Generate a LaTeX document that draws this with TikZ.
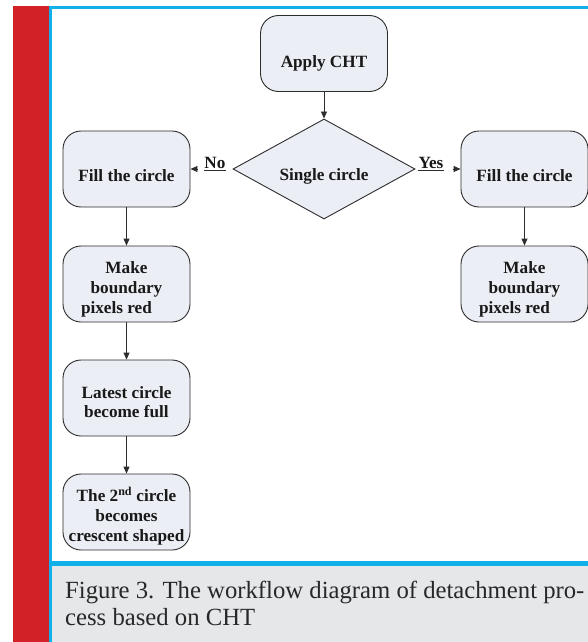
\documentclass[tikz,border=0pt]{standalone}
\usepackage{fontspec}
\setmainfont{Liberation Serif}
\usetikzlibrary{shapes.geometric,arrows.meta}
\definecolor{barred}{RGB}{211,33,40}
\definecolor{edgecyan}{RGB}{18,176,232}
\definecolor{capgray}{RGB}{230,231,233}
\definecolor{boxfill}{RGB}{236,238,245}
\definecolor{inkline}{RGB}{45,45,45}
\definecolor{captext}{RGB}{40,40,40}
% invisible strut that sets the height of a first text line
\newcommand\firstline[1]{\rule{0pt}{#1}}

\begin{document}
\begin{tikzpicture}[x=1pt,y=-1pt,
  boxfont/.style={font=\bfseries\fontsize{17.2}{19.8}\selectfont, text=black!90},
  stepbox/.style={boxfont, draw=inkline, line width=0.9pt, fill=boxfill,
    rounded corners=18pt, minimum width=127pt, minimum height=76pt,
    inner sep=0pt, align=center},
  decision/.style={boxfont, diamond, draw=inkline, line width=0.9pt, fill=boxfill,
    minimum width=182pt, minimum height=83pt, inner sep=0pt},
  flow/.style={draw=inkline, line width=0.9pt, -{Triangle[length=7pt,width=6pt]}},
  branch/.style={boxfont, inner sep=0pt, anchor=base},
  bar/.style={line width=1.4pt, draw=inkline},
  captionline/.style={anchor=base west, inner sep=0pt, text=captext,
    font=\fontsize{24.7}{27}\selectfont}
]
% page frame: red side bar, cyan rules, white panel and grey caption strip
\useasboundingbox (0,0) rectangle (588,642);
\fill[white] (0,0) rectangle (588,642);
\fill[barred] (13,6) rectangle (49,642);
\fill[edgecyan] (49,6) rectangle (588,642);
\fill[white] (52,9) rectangle (588,561);
\fill[capgray] (52,566) rectangle (588,642);

% flowchart
\node[stepbox] (apply) at (324,53.5) {\firstline{32pt}Apply CHT};
\node[decision] (single) at (324,169) {\raisebox{-6pt}[11pt][0pt]{Single circle}};

\node[stepbox] (fillL) at (126.5,169) {\firstline{25pt}Fill the circle};
\node[stepbox] (makeL) at (126.5,284) {\firstline{23pt}Make\\boundary\\pixels red\hphantom{\,xx}};
\node[stepbox] (latest) at (126.5,398) {\firstline{20pt}Latest circle\\become full};
\node[stepbox] (second) at (126.5,512) {\firstline{23pt}The 2\textsuperscript{nd} circle\\becomes\\crescent shaped};

\node[stepbox] (fillR) at (524.5,169) {\firstline{25pt}Fill the circle};
\node[stepbox] (makeR) at (524.5,284) {\firstline{23pt}Make\\boundary\\pixels red\hphantom{\,xx}};

% branch labels
\node[branch] (nolabel) at (215,168) {No};
\node[branch] (yeslabel) at (431,168) {Yes};
\draw[bar] ([yshift=-2.6pt]nolabel.base west) -- ([yshift=-2.6pt]nolabel.base east);
\draw[bar] ([yshift=-2.6pt]yeslabel.base west) -- ([yshift=-2.6pt]yeslabel.base east);

% connectors
\draw[flow] (apply) -- (single);
\draw[flow, shorten <=7pt] (fillL.east -| nolabel.west) -- (fillL.east);
\draw[flow, shorten <=9pt] (fillR.west -| yeslabel.east) -- (fillR.west);
\draw[flow] (fillL) -- (makeL);
\draw[flow] (makeL) -- (latest);
\draw[flow] (latest) -- (second);
\draw[flow] (fillR) -- (makeR);

% caption
\node[captionline] (caption1) at (65,598) {Figure 3. The workflow diagram of detachment pro-};
\node[captionline] (caption2) at (65,625) {cess based on CHT};
\end{tikzpicture}
\end{document}
